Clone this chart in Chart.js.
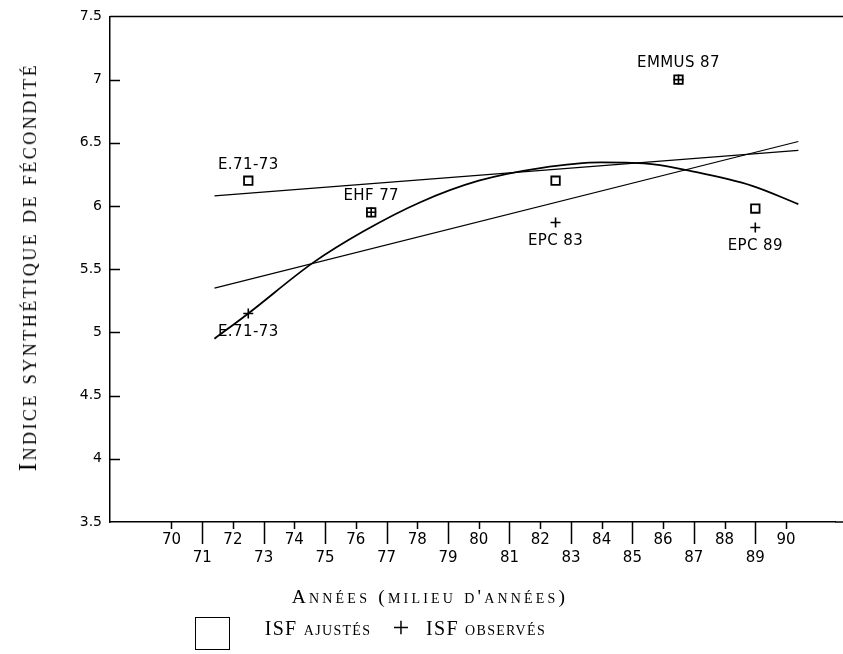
<!DOCTYPE html>
<html>
<head>
<meta charset="utf-8">
<script src="https://cdn.jsdelivr.net/npm/chart.js@4.4.0/dist/chart.umd.min.js"></script>
<style>
  html, body { margin: 0; padding: 0; background: #fff; }
  #wrap { position: relative; width: 843px; height: 654px; }
  canvas { position: absolute; left: 0; top: 0; }
  .sc {
    position: absolute;
    font-family: "Liberation Serif", serif;
    font-variant: small-caps;
    color: #000;
    white-space: nowrap;
    transform: translate(-50%, -50%);
  }
  #ytitle { left: 28px; top: 267px; font-size: 25px; letter-spacing: 2.5px;
            transform: translate(-50%, -50%) rotate(-90deg); }
  #xtitle { left: 430px; top: 597px; font-size: 19.5px; letter-spacing: 3.2px; }
  #leg1 { left: 318px; top: 628px; font-size: 20px; letter-spacing: 1.3px; }
  #leg2 { left: 486px; top: 628px; font-size: 20px; letter-spacing: 1.3px; }
  #legbox { position: absolute; left: 195px; top: 617px; width: 35px; height: 33px;
            border: 1px solid #000; box-sizing: border-box; }
  #legplus { position: absolute; left: 401px; top: 627px; transform: translate(-50%, -50%);
             font-family: "Liberation Serif", serif; font-size: 30px; line-height: 1; }
</style>
</head>
<body>
<div id="wrap">
  <canvas id="chart" width="843" height="654"></canvas>
  <div class="sc" id="ytitle">Indice synthétique de fécondité</div>
  <div class="sc" id="xtitle">Années (milieu d'années)</div>
  <div id="legbox"></div>
  <div class="sc" id="leg1">ISF ajustés</div>
  <div id="legplus">+</div>
  <div class="sc" id="leg2">ISF observés</div>
</div>
<script>
// Enquêtes
const surveyYears = [72.5, 76.5, 82.5, 86.5, 89];
const surveyNames = ["E.71-73", "EHF 77", "EPC 83", "EMMUS 87", "EPC 89"];
const isfAdjusted = [6.2, 5.95, 6.2, 7.0, 5.98];
const isfObserved = [5.15, 5.95, 5.87, 7.0, 5.83];
// where the survey name goes: above the marks, below, or both
const labelSide = ["both", "above", "below", "above", "below"];

// Courbe ajustée
const curveYears = [71.4, 72.5, 74.6, 76.25, 78.1, 80, 82, 84, 85.7, 86.85, 88.9, 90.4];
const curveIsf = [4.95, 5.15, 5.55, 5.8, 6.03, 6.2, 6.3, 6.345, 6.33, 6.28, 6.16, 6.015];

// Droites de tendance
const trendYears = [71.4, 90.4];
const trendFlat = [6.08, 6.44];
const trendSteep = [5.35, 6.51];

// Axes
const tickYears = [70, 71, 72, 73, 74, 75, 76, 77, 78, 79, 80, 81, 82, 83, 84, 85, 86, 87, 88, 89, 90];
const yTicks = [3.5, 4, 4.5, 5, 5.5, 6, 6.5, 7, 7.5];

const pts = (xs, ys) => xs.map((x, i) => ({ x: x, y: ys[i] }));

// Ticks, frame lines and survey names
const framePlugin = {
  id: "frame",
  afterDraw(chart) {
    const ctx = chart.ctx;
    const area = chart.chartArea;
    const xs = chart.scales.x;
    const ys = chart.scales.y;
    ctx.save();
    ctx.strokeStyle = "#000";
    ctx.lineWidth = 1.5;
    ctx.beginPath();
    ctx.moveTo(area.left, area.top);
    ctx.lineTo(chart.width, area.top);
    ctx.moveTo(area.right, area.bottom);
    ctx.lineTo(chart.width, area.bottom);
    tickYears.forEach((v) => {
      const px = Math.round(xs.getPixelForValue(v)) + 0.5;
      const len = v % 2 ? 22 : 7;
      ctx.moveTo(px, area.bottom);
      ctx.lineTo(px, area.bottom + len);
    });
    yTicks.slice(1, -1).forEach((v) => {
      const py = Math.round(ys.getPixelForValue(v)) + 0.5;
      ctx.moveTo(area.left, py);
      ctx.lineTo(area.left + 10, py);
    });
    ctx.stroke();

    // survey names
    const obs = chart.getDatasetMeta(0).data;
    const adj = chart.getDatasetMeta(1).data;
    ctx.fillStyle = "#000";
    ctx.font = "15px 'DejaVu Sans'";
    ctx.letterSpacing = "0.4px";
    ctx.textAlign = "center";
    ctx.textBaseline = "middle";
    surveyNames.forEach((name, i) => {
      const x = adj[i].x;
      const top = Math.min(adj[i].y, obs[i].y);
      const bot = Math.max(adj[i].y, obs[i].y);
      if (labelSide[i] === "above" || labelSide[i] === "both") {
        ctx.fillText(name, x, top - 16);
      }
      if (labelSide[i] === "below" || labelSide[i] === "both") {
        ctx.fillText(name, x, bot + 19);
      }
    });
    ctx.restore();
  },
};

const chart = new Chart(document.getElementById("chart"), {
  type: "scatter",
  plugins: [framePlugin],
  data: {
    datasets: [
      {
        label: "ISF observés",
        data: pts(surveyYears, isfObserved),
        pointStyle: "cross",
        pointRadius: 5,
        borderColor: "#000",
        borderWidth: 1.6,
      },
      {
        label: "ISF ajustés",
        data: pts(surveyYears, isfAdjusted),
        pointStyle: "rect",
        pointRadius: 6,
        backgroundColor: "#fff",
        borderColor: "#000",
        borderWidth: 1.8,
      },
      {
        type: "line",
        data: pts(curveYears, curveIsf),
        borderColor: "#000",
        borderWidth: 1.8,
        pointRadius: 0,
        cubicInterpolationMode: "monotone",
      },
      {
        type: "line",
        data: pts(trendYears, trendFlat),
        borderColor: "#000",
        borderWidth: 1.2,
        pointRadius: 0,
      },
      {
        type: "line",
        data: pts(trendYears, trendSteep),
        borderColor: "#000",
        borderWidth: 1.2,
        pointRadius: 0,
      },
    ],
  },
  options: {
    responsive: false,
    animation: false,
    layout: { padding: { top: 13, left: 0, right: 0, bottom: 0 } },
    plugins: {
      legend: { display: false },
      tooltip: { enabled: false },
    },
    scales: {
      x: {
        type: "linear",
        min: 68,
        max: 91.6,
        afterBuildTicks: (scale) => {
          scale.ticks = tickYears.map((v) => ({ value: v }));
        },
        afterFit: (scale) => {
          scale.height = 132;
        },
        ticks: {
          autoSkip: false,
          maxRotation: 0,
          padding: 9,
          color: "#000",
          font: { family: "DejaVu Sans", size: 15 },
          callback: (v) => (v % 2 ? ["", String(v)] : String(v)),
        },
        grid: { drawOnChartArea: false, drawTicks: false },
        border: { color: "#000", width: 1.5 },
      },
      y: {
        min: 3.5,
        max: 7.5,
        afterBuildTicks: (scale) => {
          scale.ticks = yTicks.map((v) => ({ value: v }));
        },
        afterFit: (scale) => {
          scale.width = 110;
        },
        ticks: {
          padding: 8,
          color: "#000",
          font: { family: "DejaVu Sans", size: 14 },
          callback: (v) => String(v),
        },
        grid: { drawOnChartArea: false, drawTicks: false },
        border: { color: "#000", width: 1.5 },
      },
    },
  },
});
</script>
</body>
</html>
